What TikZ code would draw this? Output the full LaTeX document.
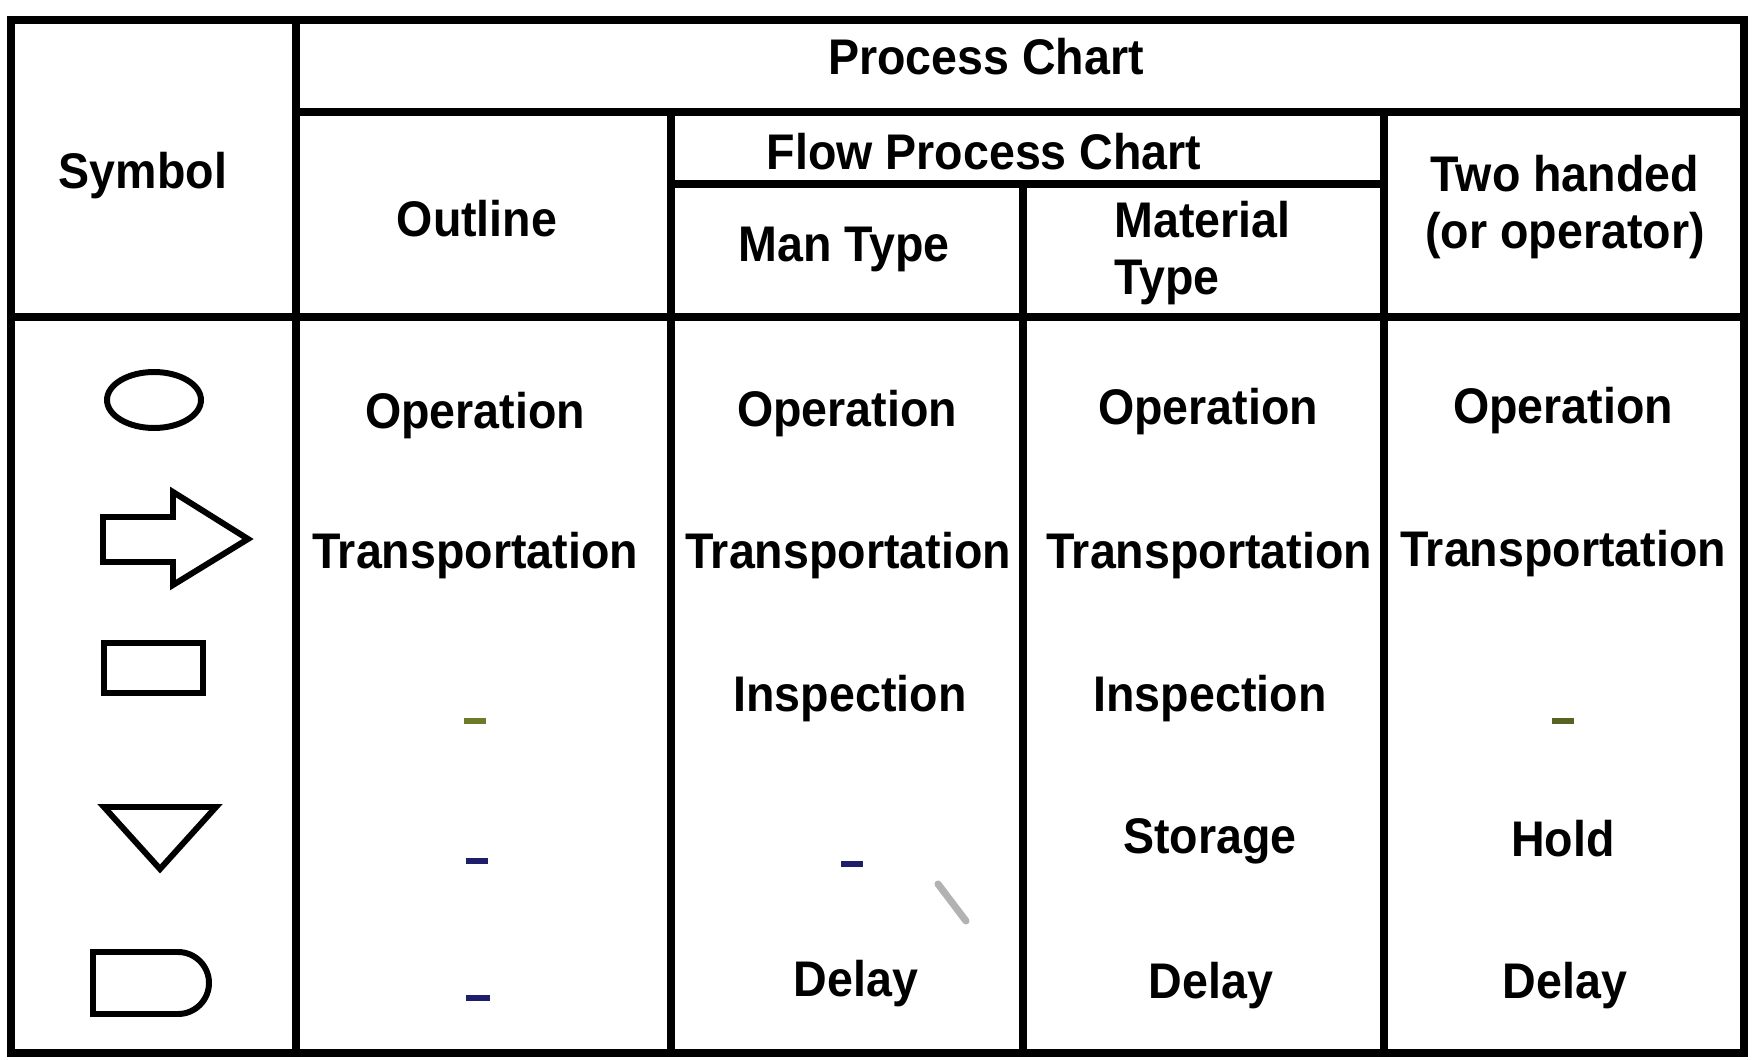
\documentclass[tikz,border=0pt]{standalone}
\usepackage{fontspec}
\newfontfamily\lbfam[FakeStretch=0.93]{Liberation Sans}
\definecolor{navydash}{HTML}{1E1E6A}
\definecolor{olivedash}{HTML}{6E7A2A}
\begin{document}
\begin{tikzpicture}[x=0.02cm,y=-0.02cm,
  grid/.style={line width=4.2pt, line cap=rect},
  sym/.style={line width=3.4pt, line join=miter},
  lbl/.style={inner sep=0pt, font=\lbfam\bfseries\fontsize{28.5}{32}\selectfont},
  dashmark/.style={line width=3pt, color=navydash}]
\useasboundingbox (0,0) rectangle (1753,1060);
\fill[white] (0,0) rectangle (1753,1060);
% table grid
\draw[grid] (11,20) rectangle (1744,1053);
\draw[grid] (296,20) -- (296,1053);
\draw[grid] (296,112) -- (1744,112);
\draw[grid] (11,317) -- (1744,317);
\draw[grid] (671,112) -- (671,1053);
\draw[grid] (1384,112) -- (1384,1053);
\draw[grid] (671,184) -- (1384,184);
\draw[grid] (1023,184) -- (1023,1053);
% header texts
\node[lbl] (pc) at (986,57) {Process Chart};
\node[lbl] (sym) at (143,176) {Symbol};
\node[lbl] (out) at (477,219) {Outline};
\node[lbl] (fpc) at (984,152) {Flow Process Chart};
\node[lbl] (man) at (844,249) {Man Type};
\node[lbl, anchor=west, align=left] (mat) at (1114,253) {Material\\Type};
\node[lbl, align=center] (two) at (1565,207) {Two handed\\(or operator)};
% symbols
\draw[sym] (154,400) ellipse [x radius=47, y radius=28];
\draw[sym] (103,517) -- (173,517) -- (173,492) -- (248,539) -- (173,585) -- (173,562) -- (103,562) -- cycle;
\draw[sym] (104,643) rectangle (203,693);
\draw[sym] (104,807) -- (216,807) -- (160,869) -- cycle;
\draw[sym] (93,952) -- (178,952) arc (-90:90:31) -- (93,1014) -- cycle;
% row 1
\node[lbl] (o1) at (475,416) {Operation};
\node[lbl] (m1) at (847,414) {Operation};
\node[lbl] (t1) at (1208,412) {Operation};
\node[lbl] (h1) at (1563,411) {Operation};
% row 2
\node[lbl] (o2) at (475,556) {Transportation};
\node[lbl] (m2) at (848,556) {Transportation};
\node[lbl] (t2) at (1209,556) {Transportation};
\node[lbl] (h2) at (1563,554) {Transportation};
% row 3
\draw[dashmark, color=olivedash] (464,721) -- (486,721);
\node[lbl] (m3) at (850,699) {Inspection};
\node[lbl] (t3) at (1210,699) {Inspection};
\draw[dashmark, color=olivedash!80!black] (1552,721) -- (1574,721);
% row 4
\draw[dashmark] (466,861) -- (488,861);
\draw[dashmark] (841,864) -- (863,864);
\node[lbl] (t4) at (1210,841) {Storage};
\node[lbl] (h4) at (1563,839) {Hold};
% row 5
\draw[dashmark] (466,998) -- (490,998);
\node[lbl] (m5) at (856,984) {Delay};
\node[lbl] (t5) at (1211,986) {Delay};
\node[lbl] (h5) at (1565,986) {Delay};
% pen mark
\draw[line width=4pt, gray!60, line cap=round] (938,884) -- (966,921);
\end{tikzpicture}
\end{document}
